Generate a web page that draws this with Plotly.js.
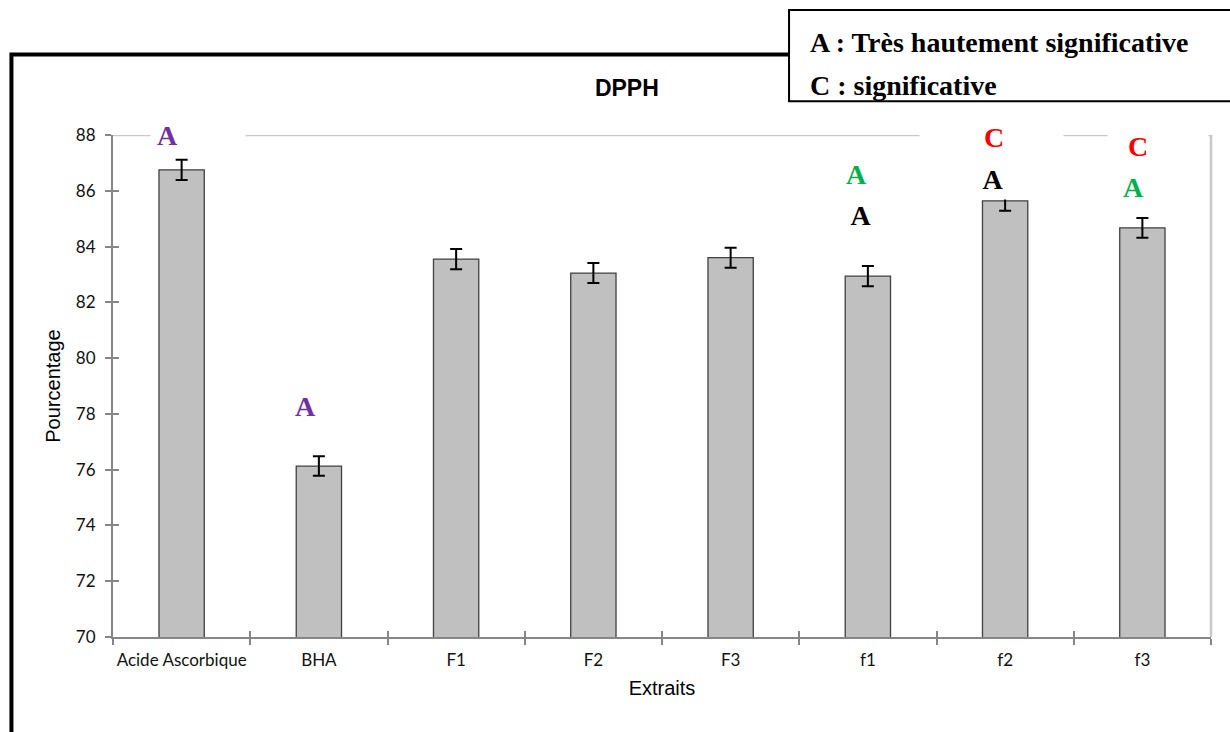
<!DOCTYPE html>
<html>
<head>
<meta charset="utf-8">
<script src="https://cdn.plot.ly/plotly-3.0.1.min.js"></script>
<style>html,body{margin:0;padding:0;background:#fff;}#chart{width:1230px;height:732px;}</style>
</head>
<body>
<div id="chart"></div>
<script>
// ---- data ----
const categories = ["Acide Ascorbique", "BHA", "F1", "F2", "F3", "f1", "f2", "f3"];
const values     = [86.75, 76.13, 83.55, 83.05, 83.6, 82.94, 85.64, 84.67];
const errors     = [0.36, 0.35, 0.36, 0.36, 0.36, 0.36, 0.36, 0.35];
const yTicks     = [70, 72, 74, 76, 78, 80, 82, 84, 86, 88];

// significance letters
const letterText     = ["A", "A", "A", "A", "C", "A", "C", "A"];
const letterCategory = ["Acide Ascorbique", "BHA", "f1", "f1", "f2", "f2", "f3", "f3"];
const letterY        = [88.0, 78.25, 86.6, 85.1, 87.9, 86.4, 87.6, 86.1];
const letterColor    = ["#7030A0", "#7030A0", "#00B050", "#000000", "#FF0000", "#000000", "#FF0000", "#00B050"];
const letterShift    = [-14, -13, -11, -7, -11, -12, -4, -9];

const legendLines = ["A : Très hautement significative", "C : significative"];
const chartTitle = "DPPH";
const xTitle = "Extraits";
const yTitle = "Pourcentage";

// ---- drawing ----
const tickFont = {family: "Lato, 'Open Sans', sans-serif", size: 17, color: "#111"};
const axisGrey = "#868686";
const serif = "'Liberation Serif', 'Times New Roman', serif";
const sans = "'Liberation Sans', Arial, sans-serif";

const trace = {
  type: "bar",
  x: categories,
  y: values,
  marker: {color: "#c0c0c0", line: {color: "#404040", width: 1.3}},
  error_y: {type: "data", array: errors, visible: true, color: "#000", thickness: 2, width: 6},
  hoverinfo: "none"
};
// empty helper trace so the overlay axes (inner half of the crossing ticks) are drawn
const helper = {type: "scatter", x: [], y: [], xaxis: "x2", yaxis: "y2", hoverinfo: "none", showlegend: false};

const annotations = [];
// white text-box backgrounds interrupting the 88 line (as in the original)
const masks = [
  {cat: "Acide Ascorbique", shift: 16, w: 94},
  {cat: "f2", shift: -14, w: 143},
  {cat: "f3", shift: 16, w: 100}
];
masks.forEach(m => annotations.push({
  x: m.cat, y: 88, xref: "x", yref: "y", xshift: m.shift,
  text: "&nbsp;", showarrow: false, width: m.w, height: 24,
  font: {color: "white", size: 12}, bgcolor: "white", borderpad: 0
}));
letterText.forEach((t, i) => {
  const blackA = (t === "A" && letterColor[i] === "#000000");
  const a = {
    x: letterCategory[i], y: letterY[i], xref: "x", yref: "y", xshift: letterShift[i],
    text: "<b>" + t + "</b>", showarrow: false, yanchor: "middle",
    font: {family: serif, size: 28, color: letterColor[i]},
    bgcolor: blackA ? "white" : "rgba(0,0,0,0)",
    borderpad: blackA ? 4 : 0
  };
  if (blackA) a.width = 44;
  annotations.push(a);
});
const legendY = [1.185, 1.099];
legendLines.forEach((t, i) => annotations.push({
  x: 0.633, y: legendY[i], xref: "paper", yref: "paper", xanchor: "left", yanchor: "middle",
  text: "<b>" + t + "</b>", showarrow: false,
  font: {family: serif, size: 28, color: "#000"}
}));

const shapes = [
  // top line at 88 (light grey)
  {type: "line", xref: "paper", yref: "y", x0: 0, x1: 1, y0: 88, y1: 88,
   line: {color: "#c8c8c8", width: 2.5}, layer: "below"},
  // right plot border
  {type: "line", xref: "paper", yref: "y", x0: 1, x1: 1, y0: 70, y1: 88.05,
   line: {color: "#c8c8c8", width: 2.5}, layer: "below"},
  // outer frame
  {type: "rect", xref: "paper", yref: "paper", x0: -0.0925, x1: 1.2, y0: -0.4, y1: 1.1605,
   line: {color: "#000", width: 4}, fillcolor: "rgba(0,0,0,0)"},
  // legend box
  {type: "rect", xref: "paper", yref: "paper", x0: 0.6157, x1: 1.2, y0: 1.067, y1: 1.249,
   line: {color: "#000", width: 2}, fillcolor: "white"}
];

const layout = {
  width: 1230, height: 732,
  margin: {l: 113, r: 19, t: 135, b: 95},
  paper_bgcolor: "white", plot_bgcolor: "white",
  showlegend: false,
  bargap: 0.67,
  title: {text: "<b>" + chartTitle + "</b>", xref: "paper", x: 0.468, xanchor: "center",
          yref: "container", y: 0.88, yanchor: "middle",
          font: {family: sans, size: 23, color: "#000"}},
  xaxis: {
    type: "category", categoryarray: categories, range: [-0.5, 7.5],
    showline: true, linecolor: axisGrey, linewidth: 2,
    ticks: "outside", tickson: "boundaries", ticklen: 6, tickwidth: 2, tickcolor: axisGrey,
    tickangle: 0, ticklabelstandoff: 7,
    showgrid: false, zeroline: false, tickfont: tickFont,
    title: {text: xTitle, standoff: 12, font: {family: sans, size: 20, color: "#000"}}
  },
  xaxis2: {
    overlaying: "x", anchor: "y2", side: "bottom", type: "linear", range: [-0.5, 7.5],
    tick0: -0.5, dtick: 1, ticks: "inside", ticklen: 6, tickwidth: 2, tickcolor: axisGrey,
    showticklabels: false, showline: false, showgrid: false, zeroline: false
  },
  yaxis: {
    range: [70, 88], tickvals: yTicks, ticktext: yTicks.map(String),
    showline: true, linecolor: axisGrey, linewidth: 2,
    ticks: "outside", ticklen: 6, tickwidth: 2, tickcolor: axisGrey,
    ticklabelstandoff: 6,
    showgrid: false, zeroline: false, tickfont: tickFont,
    title: {text: yTitle, standoff: 10, font: {family: sans, size: 20, color: "#000"}}
  },
  yaxis2: {
    overlaying: "y", anchor: "x2", side: "left", range: [70, 88], tickvals: yTicks,
    ticks: "inside", ticklen: 6, tickwidth: 2, tickcolor: axisGrey,
    showticklabels: false, showline: false, showgrid: false, zeroline: false
  },
  shapes: shapes,
  annotations: annotations
};

Plotly.newPlot("chart", [trace, helper], layout, {displayModeBar: false, staticPlot: true});
</script>
</body>
</html>
